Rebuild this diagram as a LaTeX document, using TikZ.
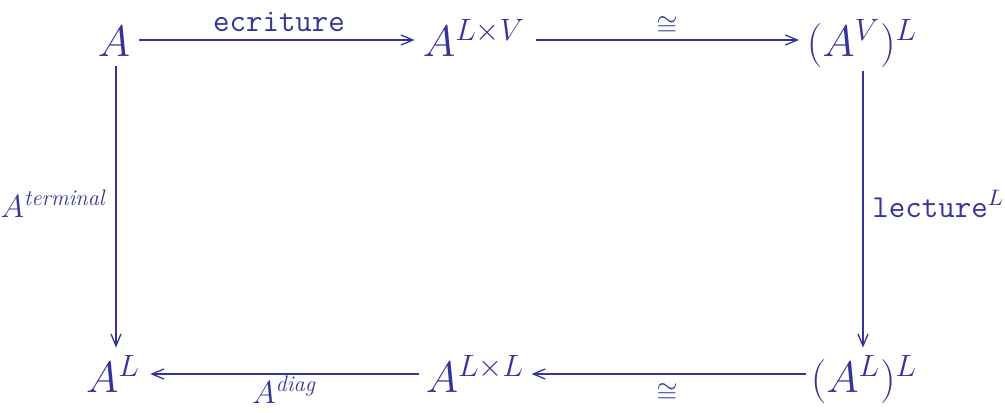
\RequirePackage{fix-cm}
\documentclass[tikz,border=0pt]{standalone}
\usepackage{amsmath}
\usetikzlibrary{arrows.meta}
\definecolor{dc}{RGB}{52,52,153}
\begin{document}
\begin{tikzpicture}[x=0.5pt,y=-0.5pt,
  every node/.style={text=dc, inner sep=0pt},
  obj/.style={anchor=base, font=\fontsize{22}{26}\selectfont},
  lab/.style={font=\fontsize{16}{19}\selectfont},
  iso/.style={anchor=base, font=\fontsize{13.5}{16}\selectfont},
  arr/.style={draw=dc, line width=0.65pt, -{Straight Barb[length=6pt,width=5pt]}}]
\useasboundingbox (0,0) rectangle (1005,412);
% objects
\node[obj] (A)    at (114,56)  {$A$};
\node[obj] (ALV)  at (474,56)  {$A^{L\times V}$};
\node[obj] (AVL)  at (862,56)  {$(A^V)^L$};
\node[obj] (AL)   at (113,392) {$A^L$};
\node[obj] (ALL)  at (475,392) {$A^{L\times L}$};
\node[obj] (ALLL) at (864,392) {$(A^L)^L$};
% top arrows
\draw[arr, shorten <=4.25pt, shorten >=4pt] (A.east |- 0,40) -- (ALV.west |- 0,40);
\draw[arr, shorten <=5.5pt, shorten >=3.75pt] (ALV.east |- 0,40) -- (AVL.west |- 0,40);
% verticals
\draw[arr, shorten <=5pt, shorten >=3.5pt] ([xshift=1pt]A.south) -- ([xshift=1pt]A.south |- AL.north);
\draw[arr, shorten <=2pt, shorten >=3.5pt] ([xshift=0.5pt]AVL.south) -- ([xshift=0.5pt]AVL.south |- ALLL.north);
% bottom arrows
\draw[arr, shorten <=3pt, shorten >=5pt] (ALL.west |- 0,374) -- (AL.east |- 0,374);
\draw[arr, shorten <=2.25pt, shorten >=3.5pt] (ALLL.west |- 0,374) -- (ALL.east |- 0,374);
% labels
\node[lab, anchor=base] (l1) at (279,32) {\texttt{ecriture}};
\node[iso] (l2) at (667,34) {$\cong$};
\node[lab, anchor=base east] (l3) at (106,217) {$A^{\textit{terminal}}$};
\node[lab, anchor=base west] (l4) at (872,217) {$\texttt{lecture}^L$};
\node[lab, anchor=base] (l5) at (284,403) {$A^{\textit{diag}}$};
\node[iso] (l6) at (667,401) {$\cong$};
\end{tikzpicture}
\end{document}
